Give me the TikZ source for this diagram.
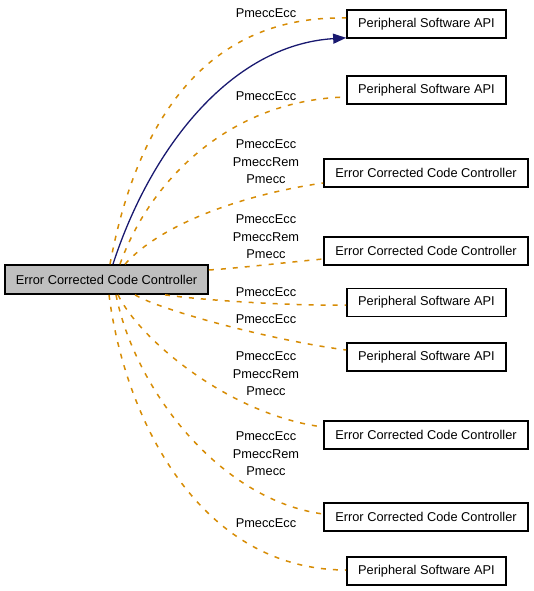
\documentclass[tikz,border=0pt]{standalone}
\usepackage{fontspec}
\setmainfont{Liberation Sans}
\usepackage{xcolor}
\usepackage{tikz}
\usetikzlibrary{arrows.meta,positioning}

\definecolor{usegold}{RGB}{215,140,5}
\definecolor{linknavy}{RGB}{25,25,112}
\definecolor{focusgray}{RGB}{191,191,191}

\begin{document}
\begin{tikzpicture}[
        x=1pt, y=-1pt,
        every node/.style={font=\fontsize{12.8}{17.5}\selectfont, inner sep=0pt},
        cls/.style={rectangle, draw, line width=1.7pt, fill=white, minimum height=28pt},
        apibox/.style={cls, minimum width=159pt},
        eccbox/.style={cls, minimum width=204pt},
        focus/.style={cls, fill=focusgray, minimum width=203pt, minimum height=29pt},
        lbl/.style={align=center},
        usage/.style={draw=usegold, line width=1.5pt, dash pattern=on 5pt off 7pt},
        link/.style={draw=linknavy, line width=1.3pt, -{Triangle[length=13pt,width=10pt]}},
    ]
        \useasboundingbox (0,0) rectangle (533,591);

        \node[focus] (main) at (106.5,279.5) {Error Corrected Code Controller};

        \node[apibox] (p1) at (426.5,24) {Peripheral Software API};
        \node[apibox] (p2) at (426.5,90) {Peripheral Software API};
        \node[eccbox] (e3) at (426,173) {Error Corrected Code Controller};
        \node[eccbox] (e4) at (426,251) {Error Corrected Code Controller};
        \node[apibox] (p5) at (426.5,302.5) {Peripheral Software API};
        \node[apibox] (p6) at (426.5,357) {Peripheral Software API};
        \node[eccbox] (e7) at (426,435) {Error Corrected Code Controller};
        \node[eccbox] (e8) at (426,517) {Error Corrected Code Controller};
        \node[apibox] (p9) at (426.5,571) {Peripheral Software API};

        % edge labels
        \node[lbl] (l1) at (266,13) {PmeccEcc};
        \node[lbl] (l2) at (266,96) {PmeccEcc};
        \node[lbl] (l3) at (266,162) {PmeccEcc\\PmeccRem\\Pmecc};
        \node[lbl] (l4) at (266,237) {PmeccEcc\\PmeccRem\\Pmecc};
        \node[lbl] (l5) at (266,292) {PmeccEcc};
        \node[lbl] (l6) at (266,319) {PmeccEcc};
        \node[lbl] (l7) at (266,374) {PmeccEcc\\PmeccRem\\Pmecc};
        \node[lbl] (l8) at (266,454) {PmeccEcc\\PmeccRem\\Pmecc};
        \node[lbl] (l9) at (266,523) {PmeccEcc};

        \draw[usage] ([xshift=3.5pt]main.north) .. controls (135,130) and (200,15) .. ([yshift=6pt]p1.west);
        \draw[link] ([xshift=6.5pt]main.north) .. controls (150,150) and (230,45) .. ([yshift=1pt]p1.south west);
        \draw[usage] ([xshift=13.5pt]main.north) .. controls (150,180) and (230,100) .. ([yshift=-7pt]p2.west);
        \draw[usage] ([xshift=18.5pt]main.north) .. controls (160,225) and (240,195) .. ([yshift=-10pt]e3.west);
        \draw[usage] ([yshift=9.5pt]main.east) .. controls (240,268) and (290,262) .. ([yshift=-8pt]e4.west);
        \draw[usage] ([xshift=58.5pt]main.south) .. controls (200,300) and (290,306) .. ([yshift=-2.5pt]p5.west);
        \draw[usage] ([xshift=28.5pt]main.south) .. controls (160,310) and (270,340) .. ([yshift=7pt]p6.west);
        \draw[usage] ([xshift=11.5pt]main.south) .. controls (140,340) and (230,415) .. ([yshift=8pt]e7.west);
        \draw[usage] ([xshift=9.5pt]main.south) .. controls (135,390) and (220,500) .. ([yshift=3pt]e8.west);
        \draw[usage] ([xshift=2.5pt]main.south) .. controls (125,420) and (200,570) .. ([yshift=1pt]p9.west);

    \end{tikzpicture}
\end{document}
